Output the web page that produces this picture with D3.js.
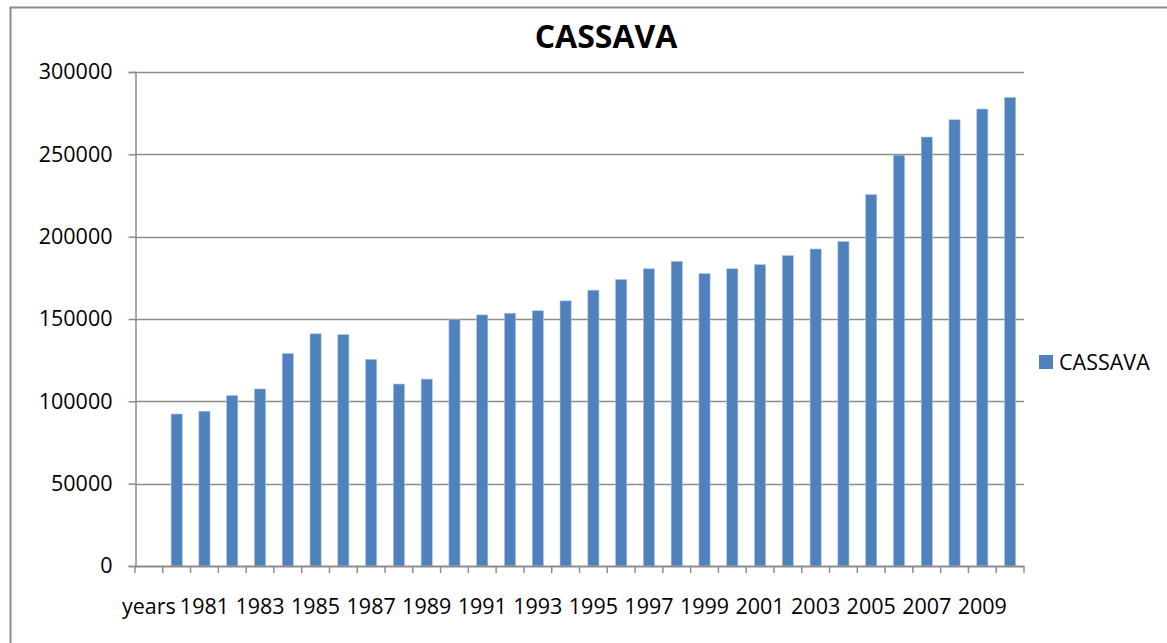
<!DOCTYPE html>
<html>
<head>
<meta charset="utf-8">
<script src="https://cdn.jsdelivr.net/npm/d3@7"></script>
<style>
  body { margin: 0; background: #fff; }
  text { font-family: "Open Sans", "Liberation Sans", sans-serif; }
</style>
</head>
<body>
<div id="chart"></div>
<script>
const categories = ["years", "1980", "1981", "1982", "1983", "1984", "1985", "1986", "1987", "1988",
  "1989", "1990", "1991", "1992", "1993", "1994", "1995", "1996", "1997", "1998", "1999",
  "2000", "2001", "2002", "2003", "2004", "2005", "2006", "2007", "2008", "2009", "2010"];
const cassava = [null, 92300, 94000, 103500, 107500, 129000, 141000, 140500, 125500, 110500,
  113500, 149500, 152500, 153500, 155000, 161000, 167500, 174000, 180500, 185000, 177500,
  180500, 183000, 188500, 192500, 197000, 225500, 249500, 260500, 271000, 277500, 284500];
const yTicks = [0, 50000, 100000, 150000, 200000, 250000, 300000];

const width = 1167;
const height = 643;
const plot = { left: 135, right: 1024, top: 72, bottom: 566 };
const blue = "#4f81bd";

const svg = d3.select("#chart")
  .append("svg")
  .attr("width", width)
  .attr("height", height);

// chart area frame (runs off the right and bottom edges)
svg.append("rect")
  .attr("x", 10.5).attr("y", 7.5)
  .attr("width", 1170).attr("height", 650)
  .attr("fill", "none")
  .attr("stroke", "#8c8c8c")
  .attr("stroke-width", 2);

// category slots: one unit per category, tick marks on the boundaries
const xStep = d3.scaleLinear()
  .domain([0, categories.length])
  .range([plot.left, plot.right]);
const step = xStep(1) - xStep(0);

const y = d3.scaleLinear()
  .domain([0, 300000])
  .range([plot.bottom, plot.top]);

// gridlines
svg.append("g")
  .selectAll("line")
  .data(yTicks.slice(1))
  .join("line")
    .attr("x1", plot.left).attr("x2", plot.right)
    .attr("y1", d => Math.round(y(d)) + 0.5)
    .attr("y2", d => Math.round(y(d)) + 0.5)
    .attr("stroke", "#8c8c8c")
    .attr("stroke-width", 1.5);

// bars
svg.append("g")
  .selectAll("rect")
  .data(categories.map((c, i) => ({ i, v: cassava[i] })).filter(d => d.v != null))
  .join("rect")
    .attr("x", d => xStep(d.i) + step * 0.3)
    .attr("width", step * 0.4)
    .attr("y", d => y(d.v))
    .attr("height", d => y(0) - y(d.v))
    .attr("fill", blue)
    .attr("stroke", "#a9c0e0")
    .attr("stroke-width", 0.6);

// y axis
const yAxis = svg.append("g")
  .attr("transform", `translate(${plot.left + 0.5},0)`)
  .call(d3.axisLeft(y).tickValues(yTicks).tickSize(7).tickPadding(16).tickFormat(d3.format("d")));
yAxis.select(".domain").attr("stroke", "#8c8c8c").attr("stroke-width", 1.5);
yAxis.selectAll(".tick line").attr("stroke", "#8c8c8c").attr("stroke-width", 1.5);
yAxis.selectAll(".tick text")
  .attr("font-size", 21.5)
  .attr("fill", "#000")
  .style("font-family", "'Open Sans', sans-serif");

// x axis
const xAxisG = svg.append("g");
xAxisG.append("line")
  .attr("x1", plot.left).attr("x2", plot.right)
  .attr("y1", plot.bottom + 0.5).attr("y2", plot.bottom + 0.5)
  .attr("stroke", "#8c8c8c")
  .attr("stroke-width", 2);
xAxisG.selectAll("line.tk")
  .data(d3.range(categories.length + 1))
  .join("line")
    .attr("class", "tk")
    .attr("x1", d => xStep(d)).attr("x2", d => xStep(d))
    .attr("y1", plot.bottom).attr("y2", plot.bottom + 7)
    .attr("stroke", "#8c8c8c")
    .attr("stroke-width", 1.5);
xAxisG.selectAll("text")
  .data(categories.map((c, i) => ({ c, i })).filter(d => d.i % 2 === 0))
  .join("text")
    .attr("x", d => xStep(d.i + 0.5))
    .attr("y", 614)
    .attr("text-anchor", "middle")
    .attr("font-size", 21.5)
    .text(d => d.c);

// title
svg.append("text")
  .attr("x", 606)
  .attr("y", 48)
  .attr("text-anchor", "middle")
  .attr("font-size", 32)
  .attr("font-weight", "bold")
  .text("CASSAVA");

// legend
const legend = svg.append("g").attr("transform", "translate(1039,355)");
legend.append("rect")
  .attr("width", 14).attr("height", 14)
  .attr("fill", blue);
legend.append("text")
  .attr("x", 20).attr("y", 15)
  .attr("font-size", 21.5)
  .text("CASSAVA");
</script>
</body>
</html>
